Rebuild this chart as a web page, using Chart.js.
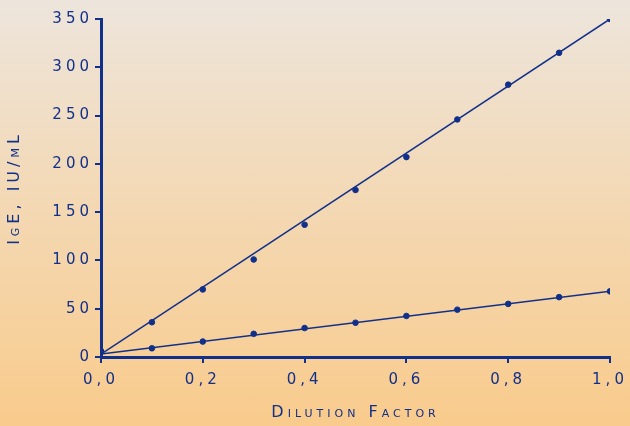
<!DOCTYPE html>
<html>
<head>
<meta charset="utf-8">
<script src="https://cdn.jsdelivr.net/npm/chart.js@4"></script>
<style>
  html, body { margin: 0; padding: 0; }
  body {
    width: 630px; height: 426px; overflow: hidden;
    background: linear-gradient(to bottom, #ede5dc 0%, #f3d9b6 45%, #f9cb8c 100%);
  }
  canvas { display: block; }
</style>
</head>
<body>
<canvas id="igeChart" width="630" height="426"></canvas>
<script>
// dati
const dilution = [0, 0.1, 0.2, 0.3, 0.4, 0.5, 0.6, 0.7, 0.8, 0.9, 1.0];
const highIgE  = [6, 36, 70, 101, 137, 173, 207, 246, 282, 315, 350];
const lowIgE   = [6, 9, 16, 24, 30, 35.5, 42.5, 49, 55, 62, 68];
// rette di regressione (estremi)
const fitX    = [0, 1];
const fitHigh = [3, 350];
const fitLow  = [3, 68];

const xTicks = [0, 0.2, 0.4, 0.6, 0.8, 1.0];
const yTicks = [0, 50, 100, 150, 200, 250, 300, 350];

const navy = '#11308a';
const pts = (xs, ys) => xs.map((x, i) => ({ x: x, y: ys[i] }));

// testo spaziato come nel grafico originale
const spacing = {
  id: 'spacing',
  beforeDraw(chart) { chart.ctx.letterSpacing = '4px'; }
};

new Chart(document.getElementById('igeChart').getContext('2d'), {
  type: 'scatter',
  data: {
    datasets: [
      { data: pts(fitX, fitHigh), showLine: true, borderColor: navy, borderWidth: 1.5, pointRadius: 0 },
      { data: pts(fitX, fitLow),  showLine: true, borderColor: navy, borderWidth: 1.5, pointRadius: 0 },
      { data: pts(dilution, highIgE), backgroundColor: navy, borderColor: navy, pointRadius: 2.8 },
      { data: pts(dilution, lowIgE),  backgroundColor: navy, borderColor: navy, pointRadius: 2.8 }
    ]
  },
  options: {
    responsive: false,
    animation: false,
    layout: { padding: { top: 19, right: 20, left: 0, bottom: 0 } },
    plugins: { legend: { display: false }, tooltip: { enabled: false } },
    scales: {
      x: {
        type: 'linear', min: 0, max: 1,
        afterFit(s) { s.height = 69; },
        afterBuildTicks(s) { s.ticks = xTicks.map(v => ({ value: v })); },
        border: { color: navy, width: 3 },
        grid: { drawOnChartArea: false, color: navy, lineWidth: 2, tickLength: 6 },
        ticks: {
          color: navy, padding: 8, maxRotation: 0,
          font: { family: 'DejaVu Sans', size: 15 },
          callback: v => v.toFixed(1).replace('.', ',')
        },
        title: {
          display: true, text: 'Dilution Factor', color: navy,
          font: { family: 'DejaVu Sans', size: 16, weight: 'small-caps' },
          padding: { top: 0, bottom: 4 }
        }
      },
      y: {
        type: 'linear', min: 0, max: 350,
        afterFit(s) { s.width = 101; },
        afterBuildTicks(s) { s.ticks = yTicks.map(v => ({ value: v })); },
        border: { color: navy, width: 3 },
        grid: { drawOnChartArea: false, color: navy, lineWidth: 2, tickLength: 6 },
        ticks: {
          color: navy, padding: 2,
          font: { family: 'DejaVu Sans', size: 15 }
        },
        title: {
          display: true, text: 'IgE, IU/mL', color: navy,
          font: { family: 'DejaVu Sans', size: 16, weight: 'small-caps' },
          padding: { top: 5, bottom: 0 }
        }
      }
    }
  },
  plugins: [spacing]
});
</script>
</body>
</html>
